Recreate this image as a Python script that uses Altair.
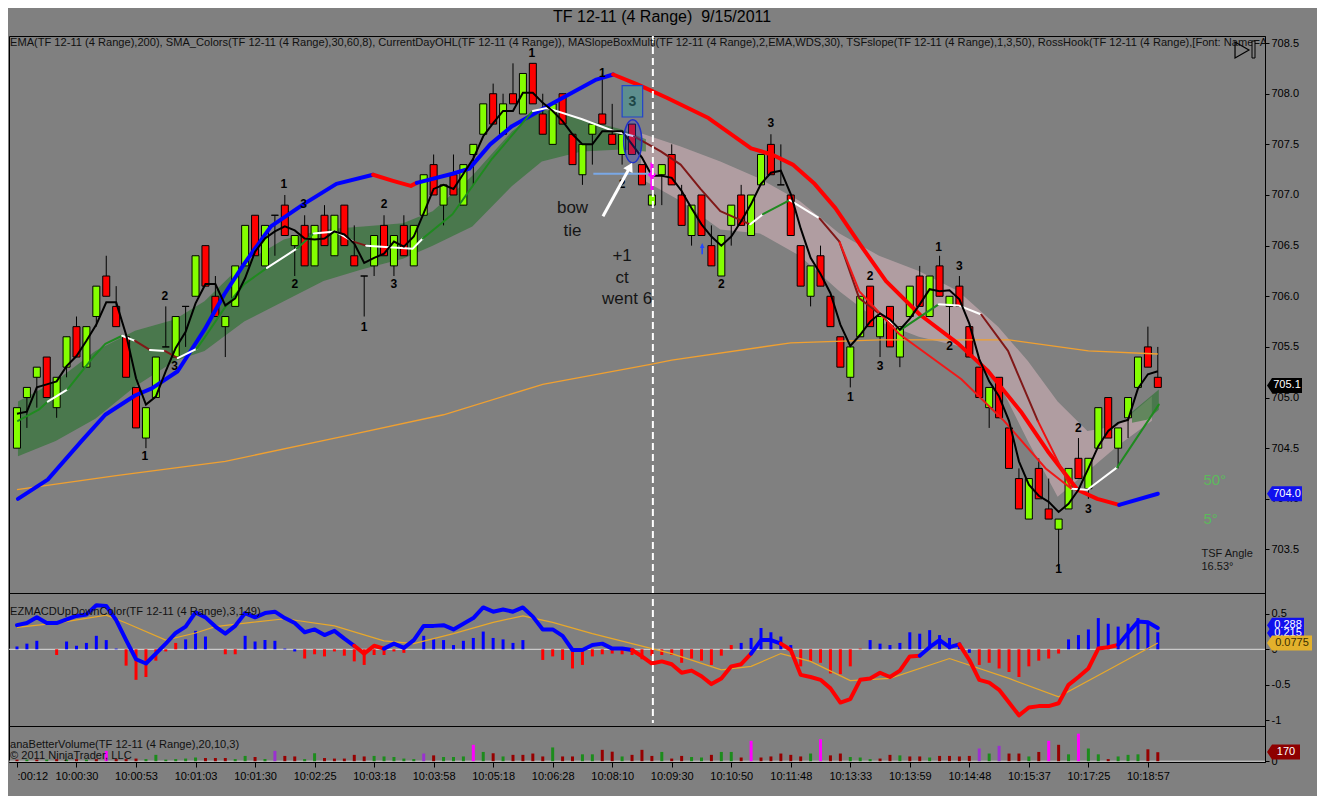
import altair as alt
import pandas as pd

FONT = "Liberation Sans"
BG = "#808080"

title_text = "TF 12-11 (4 Range)\u00a0 9/15/2011"
price_label = ("EMA(TF 12-11 (4 Range),200), SMA_Colors(TF 12-11 (4 Range),30,60,8), "
               "CurrentDayOHL(TF 12-11 (4 Range)), MASlopeBoxMulti(TF 12-11 (4 Range),2,EMA,WDS,30), "
               "TSFslope(TF 12-11 (4 Range),1,3,50), RossHook(TF 12-11 (4 Range),[Font: Name=Ar")
macd_label = "EZMACDUpDownColor(TF 12-11 (4 Range),3,149)"
vol_label1 = "anaBetterVolume(TF 12-11 (4 Range),20,10,3)"
vol_label2 = "\u00a9 2011 NinjaTrader, LLC"

time_labels = [":00:12", "10:00:30", "10:00:53", "10:01:03", "10:01:30", "10:02:25", "10:03:18",
               "10:03:58", "10:05:18", "10:06:28", "10:08:10", "10:09:30", "10:10:50", "10:11:48",
               "10:13:33", "10:13:59", "10:14:48", "10:15:37", "10:17:25", "10:18:57"]
time_ticks = [0, 6, 12, 18, 24, 30, 36, 42, 48, 54, 60, 66, 72, 78, 84, 90, 96, 102, 108, 114]

# ---------------- candles (4-range bars) ----------------
opens = [704.5,705.0,705.2,705.4,704.9,705.3,705.7,705.3,705.8,706.2,
         705.9,705.6,705.1,704.6,705.0,705.5,705.4,705.9,706.0,706.5,
         706.0,705.7,705.9,706.3,706.8,706.3,706.8,706.9,706.5,706.7,
         706.3,706.8,706.4,706.9,706.4,706.2,706.3,706.7,706.3,706.7,
         706.3,706.8,707.3,706.9,707.2,706.9,707.4,707.6,708.0,707.6,
         708.0,707.8,708.3,707.8,707.5,708.0,707.6,707.2,707.6,707.8,
         707.6,707.4,707.7,707.3,706.9,707.2,707.4,707.0,706.6,707.0,
         706.5,706.2,706.7,707.0,706.6,707.1,707.5,707.1,707.0,706.5,
         706.0,706.4,706.0,705.6,705.2,705.6,706.1,705.6,705.9,705.4,
         705.8,706.2,705.8,706.3,705.9,706.1,705.7,705.3,704.9,705.2,
         704.7,704.2,703.8,704.3,703.9,703.7,703.9,704.4,704.1,704.5,
         705.0,704.5,704.8,705.1,705.5,705.2]
closes = [704.9,705.1,705.3,705.0,705.2,705.6,705.4,705.7,706.1,706.0,
          705.7,705.2,704.7,704.9,705.4,705.5,705.8,705.9,706.4,706.1,
          705.8,705.8,706.3,706.7,706.4,706.7,706.8,706.6,706.6,706.3,
          706.7,706.5,706.8,706.5,706.3,706.2,706.6,706.4,706.6,706.4,
          706.7,707.2,707.0,707.1,707.0,707.3,707.5,707.9,707.7,707.9,
          707.9,708.2,707.9,707.6,707.9,707.7,707.3,707.5,707.7,707.7,
          707.5,707.6,707.4,707.1,707.0,707.3,707.1,706.7,706.9,706.6,
          706.3,706.6,706.9,706.7,707.0,707.4,707.2,707.1,706.6,706.1,
          706.3,706.1,705.7,705.3,705.5,706.0,705.7,705.8,705.5,705.7,
          706.1,705.9,706.2,706.0,706.0,705.9,705.4,705.0,705.1,704.8,
          704.3,703.9,704.2,704.0,703.8,703.8,704.3,704.2,704.4,704.9,
          704.6,704.7,705.0,705.4,705.3,705.1]
highs = [704.9,705.1,705.3,705.4,705.2,705.6,705.8,705.7,706.1,706.4,
         706.1,705.6,705.1,704.9,705.4,705.9,705.8,705.9,706.4,706.5,
         706.2,705.8,706.3,706.7,706.8,706.7,706.8,707.0,706.6,706.8,
         706.7,706.9,706.8,706.9,706.7,706.2,706.6,706.8,706.6,706.8,
         706.7,707.2,707.4,707.1,707.4,707.3,707.5,707.9,708.1,708.0,
         708.3,708.2,708.3,708.0,707.9,708.0,707.6,707.5,707.7,708.2,
         707.9,707.6,707.7,707.3,707.0,707.3,707.5,707.1,706.9,707.0,
         706.7,706.6,706.9,707.1,707.0,707.4,707.6,707.5,707.0,706.5,
         706.3,706.5,706.0,705.6,705.5,706.0,706.1,705.8,705.9,705.7,
         706.1,706.3,706.2,706.4,706.0,706.2,705.7,705.3,705.1,705.2,
         704.7,704.3,704.2,704.4,704.2,703.8,704.3,704.6,704.4,704.9,
         705.0,704.7,705.0,705.4,705.7,705.5]
lows = [704.5,704.7,704.9,705.0,704.8,705.2,705.4,705.3,705.7,706.0,
        705.7,705.2,704.7,704.5,705.0,705.5,705.4,705.5,706.0,706.1,
        705.8,705.4,705.9,706.3,706.4,706.3,706.4,706.6,706.2,706.3,
        706.3,706.5,706.4,706.5,706.3,705.8,706.2,706.4,706.2,706.4,
        706.3,706.8,707.0,706.7,707.0,706.9,707.1,707.6,707.7,707.6,
        707.9,707.8,707.9,707.6,707.5,707.7,707.3,707.1,707.3,707.7,
        707.5,707.3,707.4,707.1,706.9,706.9,707.1,706.7,706.5,706.6,
        706.3,706.2,706.5,706.7,706.6,707.1,707.2,707.1,706.6,706.1,
        705.9,706.1,705.7,705.3,705.1,705.6,705.7,705.4,705.5,705.3,
        705.8,705.9,705.8,706.0,705.6,705.9,705.4,705.0,704.7,704.8,
        704.3,703.9,703.8,704.0,703.8,703.3,703.9,704.2,704.0,704.5,
        704.6,704.3,704.6,705.1,705.3,705.1]
bar_index = list(range(len(opens)))

# fast black line (one value per bar)
black_line = [704.84,704.86,705.10,705.13,705.16,705.31,705.41,705.56,705.72,705.94,
              705.94,705.62,705.19,704.93,705.01,705.26,705.49,705.65,705.93,706.12,
              706.12,705.91,705.98,706.18,706.44,706.57,706.64,706.69,706.65,706.57,
              706.56,706.57,706.64,706.61,706.52,706.33,706.38,706.42,706.54,706.49,
              706.59,706.82,707.06,707.10,707.06,707.21,707.36,707.58,707.71,707.83,
              707.83,708.01,708.01,707.91,707.83,707.73,707.60,707.50,707.50,707.63,
              707.63,707.63,707.50,707.37,707.19,707.19,707.17,707.04,706.87,706.71,
              706.59,706.50,706.59,706.74,706.91,707.11,707.22,707.24,707.01,706.67,
              706.38,706.22,706.03,705.72,705.51,705.62,705.75,705.83,705.77,705.67,
              705.78,705.92,706.07,706.05,706.06,705.97,705.73,705.38,705.16,705.01,
              704.77,704.37,704.14,704.03,703.97,703.87,703.95,704.09,704.30,704.52,
              704.67,704.75,704.78,705.09,705.23,705.26]

# EMA(200)
ema_i = [0, 10, 21, 33, 43, 53, 64, 66, 78, 87, 100, 108, 115]
ema_p = [704.09,704.23,704.37,704.62,704.83,705.13,705.33,705.37,705.54,705.57,705.57,705.46,705.43]

# thick SMA_Colors line (b = rising/blue, r = falling/red)
thick_i = [0.1,3.1,6.5,8.9,11.9,13.6,16.2,18.9,20.9,22.9,25.6,28.9,32.2,35.9,37.9,39.7,40.3,43.9,45.6,47.7,
           49.9,54.1,58.4,60.1,62.6,65.5,69.7,74.0,76.1,78.2,80.4,82.5,85.0,87.6,91.0,94.9,97.9,101.2,103.9,106.9,
           108.9,111.1,115.0]
thick_p = [704.00,704.19,704.57,704.83,705.02,705.09,705.26,705.67,706.02,706.32,706.69,706.91,707.11,707.20,707.14,
           707.09,707.12,707.21,707.26,707.50,707.68,707.91,708.14,708.19,708.09,707.96,707.76,707.46,707.40,707.30,
           707.11,706.87,706.51,706.15,705.82,705.53,705.26,704.86,704.47,704.09,704.00,703.94,704.05]
thick_c = "bbbbbbbbbbbbbbrrrbbbbbbbrrrrrrrrrrrrrrrrrrb"

# slope-coloured middle average (g green, w white/flat, m maroon, r red)
mid_i = [0.1,2.2,3.1,5.1,7.6,8.9,10.6,11.9,13.4,14.9,16.2,18.1,18.9,20.9,22.9,25.2,28.2,29.9,32.1,33.9,35.2,
         39.9,40.9,43.9,47.9,52.0,53.4,56.9,60.2,62.2,64.9,66.9,68.9,70.9,73.9,75.2,77.9,80.9,82.9,84.9,86.9,
         89.1,92.9,94.9,97.2,99.9,102.9,106.3,107.9,110.9,115.1]
mid_p = [704.77,704.88,704.96,705.08,705.39,705.53,705.61,705.56,705.47,705.46,705.39,705.48,705.59,705.88,706.12,
         706.28,706.47,706.62,706.64,706.54,706.50,706.47,706.57,706.81,707.36,707.83,707.86,707.75,707.63,707.58,
         707.43,707.30,707.06,706.84,706.71,706.81,706.95,706.77,706.54,705.98,705.83,705.67,705.92,705.91,705.82,
         705.46,704.77,704.10,704.09,704.31,704.93]
mid_c = "gggwgggwmwmwggggwgwwmwwgggwwwwmmmmmwgwmmmwgwwmmrwwg"

# thin red average on the right
tred_i = [82.9, 84.9, 88.9, 95.2, 99.5, 103.7, 106.3]
tred_p = [706.54, 706.05, 705.63, 705.18, 704.77, 704.30, 704.10]

# green envelope (left) and small patch (right)
gband_i = [0.1,3.9,7.9,11.9,15.9,18.9,22.9,26.9,30.9,34.9,38.9,41.9,45.9,49.9,52.9,56.9,60.9,63.4]
gband_top = [704.96,705.16,705.46,705.66,705.77,705.95,706.33,706.56,706.66,706.69,706.72,706.84,707.19,707.63,
             707.85,707.75,707.65,707.55]
gband_bot = [704.42,704.57,704.79,705.11,705.36,705.46,705.75,705.95,706.15,706.27,706.37,706.50,706.69,707.09,
             707.33,707.43,707.45,707.43]
gpatch_i = [112.4, 113.9, 115.1]
gpatch_top = [704.86, 704.98, 705.08]
gpatch_bot = [704.75, 704.78, 704.88]

# pink slope box
pband_i = [62.9,66.9,70.9,74.9,78.9,82.9,86.9,90.9,94.9,98.9,101.9,104.9,107.9,110.9,114.4]
pband_top = [707.61,707.48,707.33,707.16,706.94,706.62,706.40,706.25,706.05,705.70,705.36,704.96,704.67,704.72,705.01]
pband_bot = [707.16,706.94,706.66,706.62,706.40,706.05,705.75,705.60,705.51,705.16,704.57,704.02,704.27,704.52,704.77]

# Ross hook numbers
rh_t = ["1","2","3","1","3","2","2","1","3","1","1","2","3","2","2","1","3","1","3","2","2","3","1"]
rh_i = [12.9,14.9,15.9,26.9,28.9,28.0,37.0,35.0,38.0,51.9,59.0,61.0,76.0,71.0,86.0,84.0,87.0,92.9,95.0,94.0,
        107.0,108.0,105.0]
rh_p = [704.42,706.00,705.31,707.11,706.91,706.12,706.91,705.70,706.12,708.40,708.20,707.11,707.71,706.12,706.20,
        705.01,705.31,706.49,706.30,705.51,704.70,703.90,703.31]

# hand annotations
note_t = ["bow", "tie", "+1", "ct", "went 6"]
note_i = [56.0, 56.0, 61.0, 61.0, 61.5]
note_p = [706.87, 706.64, 706.40, 706.18, 705.97]

# ---------------- MACD ----------------
macd = [0.34,0.37,0.45,0.37,0.37,0.42,0.47,0.49,0.62,0.61,
        0.41,0.13,-0.14,-0.20,-0.06,0.08,0.23,0.32,0.52,0.45,
        0.32,0.22,0.33,0.51,0.45,0.51,0.53,0.44,0.37,0.24,
        0.28,0.20,0.26,0.15,0.05,-0.06,0.05,0.01,0.08,0.02,
        0.13,0.33,0.33,0.34,0.28,0.36,0.44,0.59,0.53,0.56,
        0.53,0.59,0.46,0.28,0.28,0.19,-0.01,-0.01,0.06,0.08,
        0.01,0.01,-0.01,-0.10,-0.20,-0.17,-0.21,-0.33,-0.30,-0.38,
        -0.49,-0.41,-0.24,-0.21,-0.06,0.13,0.13,0.08,-0.01,-0.36,
        -0.39,-0.43,-0.55,-0.75,-0.70,-0.43,-0.41,-0.33,-0.39,-0.30,
        -0.10,-0.09,0.03,0.13,0.03,0.07,-0.15,-0.43,-0.47,-0.57,
        -0.75,-0.93,-0.82,-0.80,-0.80,-0.76,-0.50,-0.39,-0.27,0.01,
        0.03,0.06,0.23,0.39,0.38,0.30]
macd_c = ("bbbbbbbbbb" "bbbbbbbbbb" "bbbbbbbbbb" "bbbbbrrrbb" "bbbbbbbbbb" "bbbbbbbbbb"
          "bbbrrrrrrr" "rrrrrbbbrr" "rrrrrrrrrr" "rrbbbbrrrr" "rrrrrrrrrr" "rrbbbb")
hist = [0.04,0.08,0.12,0.0,-0.08,0.11,0.05,0.09,0.19,0.13,
        0.01,-0.23,-0.43,-0.39,-0.16,-0.03,0.09,0.14,0.26,0.18,
        0.0,-0.07,-0.07,0.19,0.11,0.13,0.12,0.01,-0.03,-0.13,
        -0.07,-0.10,-0.03,-0.09,-0.17,-0.22,-0.08,-0.08,-0.03,-0.05,
        0.0,0.19,0.14,0.13,0.06,0.12,0.16,0.25,0.16,0.14,
        0.09,0.13,0.0,-0.15,-0.10,-0.15,-0.27,-0.22,-0.10,-0.07,
        -0.06,-0.07,-0.08,-0.14,-0.09,-0.08,-0.08,-0.19,-0.13,-0.16,
        -0.22,-0.09,0.06,0.09,0.16,0.30,0.24,0.18,0.06,-0.24,
        -0.17,-0.19,-0.34,-0.35,-0.24,0.01,0.13,0.08,0.06,0.09,
        0.24,0.22,0.27,0.20,0.16,0.08,-0.05,-0.22,-0.19,-0.27,
        -0.32,-0.39,-0.24,-0.16,-0.13,-0.06,0.14,0.20,0.28,0.44,
        0.36,0.32,0.36,0.44,0.38,0.24]
hist_c = ("bbbbrbbbbb" "brrrrrrbbb" "brrbbbbbbr" "rrrrrrrrrr" "bbbbbbbbbb" "bbbrrrrrrr"
          "rrrrrrrrrr" "rrrbbbbbbr" "rrrrrrbbbb" "bbbbbbbrrr" "rrrrrrbbbb" "bbbbbb")
sig_i = [0,4,9,11,15,18,20,23,27,32,37,40,44,48,51,54,58,62,66,71,74,77,80,84,88,94,100,105,110,115]
sig_v = [0.31,0.37,0.48,0.37,0.13,0.23,0.32,0.37,0.43,0.33,0.12,0.08,0.22,0.38,0.47,0.38,0.22,0.08,
         -0.06,-0.29,-0.24,-0.06,-0.17,-0.44,-0.41,-0.13,-0.41,-0.67,-0.29,0.09]

# ---------------- volume ----------------
vol = [30,30,30,30,40,30,40,30,40,195,
       40,40,50,40,120,30,40,50,70,60,
       60,60,40,100,80,40,195,100,90,40,
       150,60,50,50,120,90,100,90,80,50,
       40,145,110,80,80,90,310,175,150,90,
       120,120,145,90,260,90,90,130,130,215,
       180,90,120,215,100,175,50,100,80,70,
       120,175,175,70,385,70,90,145,120,90,
       145,415,110,145,80,70,40,50,120,110,
       90,90,70,100,100,90,100,240,145,290,
       145,145,90,175,385,310,130,520,240,130,
       40,90,120,130,225,170]
vol_c = ("rgrgrgrgrm" "rrrggggggr" "rrggrgprrg" "grrrrrgggg" "gprgggmgrg" "rrrrgrrggr"
         "rgrrrgrrgg" "rggrmrrrrr" "gmrrgggrrg" "rrgrrrrpgp" "rrgrmrgmgg" "rgggrr")

COL = {"b": "#0000ff", "r": "#ff0000", "g": "#1f8f1f", "w": "#ffffff", "m": "#8b1a1a"}
VOLCOL = {"r": "#960000", "g": "#1c8c1c", "m": "#ff00ff", "p": "#9a30d0"}
MIDCOL = {"g": "#1f8a1f", "w": "#ffffff", "m": "#801818", "r": "#f01010"}

# ---------------- geometry ----------------
W = 1256
HP, HM, HV = 557, 133, 36
X_DOM = [-0.3, 125.3]
P_DOM = [703.07, 708.57]
M_DOM = [-1.08, 0.793]
V_DOM = [-15, 665]

xscale = alt.Scale(domain=X_DOM, nice=False, zero=False)


def XP(f):
    return alt.X(f + ":Q", scale=xscale, axis=None)


axis_common = dict(orient="right", title=None, grid=False, tickSize=4, labelPadding=2, labelFontSize=11,
                   labelFont=FONT, labelColor="black", tickColor="black", domainColor="black")
p_axis = alt.Axis(values=[703.5, 704.0, 704.5, 705.0, 705.5, 706.0, 706.5, 707.0, 707.5, 708.0, 708.5],
                  format=".1f", **axis_common)
m_axis = alt.Axis(values=[0.5, 0, -0.5, -1], labelExpr="toString(datum.value)", **axis_common)
v_axis = alt.Axis(values=[0], labelExpr="'0'", **axis_common)


def YP(f):
    return alt.Y(f + ":Q", scale=alt.Scale(domain=P_DOM, nice=False, zero=False), axis=p_axis)


def YM(f):
    return alt.Y(f + ":Q", scale=alt.Scale(domain=M_DOM, nice=False, zero=False), axis=m_axis)


def YV(f):
    return alt.Y(f + ":Q", scale=alt.Scale(domain=V_DOM, nice=False, zero=False), axis=v_axis)


labels_js = "[" + ",".join(repr(s) for s in time_labels) + "]"
x_axis = alt.Axis(values=time_ticks, labelExpr=labels_js + "[round(datum.value/6)]", title=None, grid=False,
                  tickSize=5, labelPadding=3, labelFontSize=11, labelFont=FONT, labelColor="black",
                  tickColor="black", domainColor="black", labelOverlap=False,
                  labelAlign={"condition": {"test": "datum.value < 1", "value": "left"}, "value": "center"})


def XV(f):
    return alt.X(f + ":Q", scale=xscale, axis=x_axis)


def runs(xs, ys, cols, cmap):
    rows = []
    run = -1
    prev = None
    for k in range(len(xs) - 1):
        c = cols[k + 1]
        if c != prev:
            run += 1
            rows.append(dict(run=run, i=xs[k], v=ys[k], col=cmap[c]))
            prev = c
        rows.append(dict(run=run, i=xs[k + 1], v=ys[k + 1], col=cmap[c]))
    return pd.DataFrame(rows)


def box_path(w, h, tip=5.0):
    u = w / 2.0
    hy = h / w
    t = -1 - tip / u
    return f"M{t:.3f},0L-1,{-hy:.3f}L1,{-hy:.3f}L1,{hy:.3f}L-1,{hy:.3f}Z"


# ---------------- price panel ----------------
cdf = pd.DataFrame({"i": bar_index, "o": opens, "c": closes, "h": highs, "l": lows})

pink = alt.Chart(pd.DataFrame({"i": pband_i, "top": pband_top, "bot": pband_bot})).mark_area(
    color="#f2c6d0", opacity=0.42).encode(x=XP("i"), y=YP("top"), y2="bot")
gdf = pd.concat([
    pd.DataFrame({"grp": "a", "i": gband_i, "top": gband_top, "bot": gband_bot}),
    pd.DataFrame({"grp": "b", "i": gpatch_i, "top": gpatch_top, "bot": gpatch_bot}),
])
green = alt.Chart(gdf).mark_area(color="#13701a", opacity=0.5).encode(
    x=XP("i"), y=YP("top"), y2="bot", detail="grp:N")

wicks = alt.Chart(cdf).mark_rule(color="black", strokeWidth=1).encode(x=XP("i"), y=YP("l"), y2="h")
bodies = alt.Chart(cdf).transform_calculate(
    fillc="datum.c > datum.o ? '#84ff00' : (datum.c < datum.o ? '#ff0000' : '#000000')"
).mark_bar(size=7, stroke="black", strokeWidth=1).encode(
    x=XP("i"), y=YP("o"), y2="c", fill=alt.Fill("fillc:N", scale=None))

ema = alt.Chart(pd.DataFrame({"i": ema_i, "p": ema_p})).mark_line(color="#f0a030", strokeWidth=1.3).encode(
    x=XP("i"), y=YP("p"))
thick = alt.Chart(runs(thick_i, thick_p, thick_c, COL)).mark_line(
    strokeWidth=4, strokeCap="round", strokeJoin="round").encode(
    x=XP("i"), y=YP("v"), color=alt.Color("col:N", scale=None), detail="run:N")
mid = alt.Chart(runs(mid_i, mid_p, mid_c, MIDCOL)).mark_line(
    strokeWidth=2, strokeCap="round", strokeJoin="round").encode(
    x=XP("i"), y=YP("v"), color=alt.Color("col:N", scale=None), detail="run:N")
tred = alt.Chart(pd.DataFrame({"i": tred_i, "p": tred_p})).mark_line(color="#f01818", strokeWidth=2).encode(
    x=XP("i"), y=YP("p"))
blk = alt.Chart(pd.DataFrame({"i": bar_index, "p": black_line})).mark_line(color="black", strokeWidth=2).encode(
    x=XP("i"), y=YP("p"))

rh = alt.Chart(pd.DataFrame({"i": rh_i, "p": rh_p, "t": rh_t})).mark_text(
    font=FONT, fontSize=12, fontWeight="bold", color="black", baseline="middle").encode(
    x=XP("i"), y=YP("p"), text="t:N")
notes = alt.Chart(pd.DataFrame({"i": note_i, "p": note_p, "t": note_t})).mark_text(
    font=FONT, fontSize=17, color="#151515", baseline="middle").encode(x=XP("i"), y=YP("p"), text="t:N")

# "3" box with ellipse around bar 62
box3 = alt.Chart(pd.DataFrame({"i": [61.0], "i2": [63.07], "p": [708.08], "p2": [707.77]})).mark_rect(
    fill="#5d8e8e", stroke="#2244cc", strokeWidth=1.2).encode(x=XP("i"), x2="i2", y=YP("p"), y2="p2")
box3t = alt.Chart(pd.DataFrame({"i": [62.03], "p": [707.92]})).mark_text(
    text="3", font=FONT, fontSize=14, fontWeight="bold", color="#1d4646", baseline="middle").encode(
    x=XP("i"), y=YP("p"))
ellipse = alt.Chart(pd.DataFrame({"i": [62.07], "p": [707.53]})).mark_point(
    shape="M-0.42,0A0.42,1 0 1,0 0.42,0A0.42,1 0 1,0 -0.42,0Z", size=1849, filled=True,
    fill="#3a46d8", fillOpacity=0.3, stroke="#2030c8", strokeWidth=1.5, opacity=1).encode(x=XP("i"), y=YP("p"))

# light blue line, magenta mark, white arrow, blue arrow
hline = alt.Chart(pd.DataFrame({"i": [58.1], "i2": [64.2], "p": [707.21]})).mark_rule(
    color="#7aa8e6", strokeWidth=2).encode(x=XP("i"), x2="i2", y=YP("p"))
mag = alt.Chart(pd.DataFrame({"i": [64.0], "p": [707.05], "p2": [707.32]})).mark_rule(
    color="#ff00ff", strokeWidth=3).encode(x=XP("i"), y=YP("p"), y2="p2")
magpt = alt.Chart(pd.DataFrame({"i": [64.0], "p": [707.2]})).mark_point(
    shape="diamond", size=70, filled=True, color="#ff00ff", opacity=1).encode(x=XP("i"), y=YP("p"))
arrow = alt.Chart(pd.DataFrame({"i": [59.07], "i2": [61.7], "p": [706.79], "p2": [707.26]})).mark_rule(
    color="white", strokeWidth=3).encode(x=XP("i"), x2="i2", y=YP("p"), y2="p2")
arrowhead = alt.Chart(pd.DataFrame({"i": [61.8], "p": [707.28]})).mark_point(
    shape="triangle-up", angle=28, size=110, filled=True, color="white", opacity=1).encode(
    x=XP("i"), y=YP("p"))
bluearrow = alt.Chart(pd.DataFrame({"i": [69.07], "p": [706.47]})).mark_point(
    shape="arrow", size=130, filled=True, color="#2448ff", opacity=1).encode(x=XP("i"), y=YP("p"))

dash_p = alt.Chart(pd.DataFrame({"i": [64.1]})).mark_rule(
    color="white", strokeWidth=2, strokeDash=[7, 4]).encode(x=XP("i"), y=alt.value(0), y2=alt.value(HP))

plabel = alt.Chart(pd.DataFrame({"a": [0]})).mark_text(
    text=price_label, font=FONT, fontSize=11.1, color="#111111", align="left", baseline="middle",
    clip=True).encode(x=alt.value(1), y=alt.value(7))

# right-side info texts
side = pd.DataFrame({"i": [119.6, 119.6], "p": [704.19, 703.80], "t": ["50\u00b0", "5\u00b0"]})
side_t = alt.Chart(side).mark_text(font=FONT, fontSize=15, color="#5cba5c", align="left",
                                   baseline="middle").encode(x=XP("i"), y=YP("p"), text="t:N")
tsf = pd.DataFrame({"i": [119.4, 119.4], "p": [703.46, 703.33], "t": ["TSF Angle", "16.53\u00b0"]})
tsf_t = alt.Chart(tsf).mark_text(font=FONT, fontSize=11, color="#151515", align="left",
                                 baseline="middle").encode(x=XP("i"), y=YP("p"), text="t:N")

# NinjaTrader "play" button
btn_tri = alt.Chart(pd.DataFrame({"a": [0]})).mark_point(
    shape="triangle-right", size=260, filled=False, color="black", strokeWidth=1.2, opacity=1).encode(
    x=alt.value(1233), y=alt.value(14))
btn_bar = alt.Chart(pd.DataFrame({"a": [0]})).mark_rect(
    fill=BG, stroke="black", strokeWidth=1).encode(
    x=alt.value(1243), x2=alt.value(1246), y=alt.value(5), y2=alt.value(22))

# price markers at the axis
pm = pd.DataFrame({"p": [705.12, 704.05], "t": ["705.1", "704.0"], "f": ["#000000", "#1010ee"]})
pm_box = alt.Chart(pm).mark_point(shape=box_path(30, 15), size=900, filled=True, opacity=1,
                                  strokeWidth=0).encode(
    x=alt.value(1278), y=YP("p"), fill=alt.Fill("f:N", scale=None))
pm_txt = alt.Chart(pm).mark_text(font=FONT, fontSize=11, color="white", baseline="middle").encode(
    x=alt.value(1278), y=YP("p"), text="t:N")

price = alt.layer(pink, green, wicks, bodies, ema, thick, mid, tred, blk, rh, notes, box3, box3t, ellipse,
                  hline, mag, magpt, arrow, arrowhead, bluearrow, dash_p, plabel, side_t, tsf_t,
                  btn_tri, btn_bar, pm_box, pm_txt).properties(width=W, height=HP)

# ---------------- MACD panel ----------------
zero_m = alt.Chart(pd.DataFrame({"v": [0]})).mark_rule(color="#dcdcdc", strokeWidth=1).encode(y=YM("v"))
hdf = pd.DataFrame({"i": bar_index, "v": hist, "col": [COL[c] for c in hist_c]})
hbars = alt.Chart(hdf).mark_bar(size=3).encode(
    x=XP("i"), y=YM("v"), y2=alt.datum(0), color=alt.Color("col:N", scale=None))
sig = alt.Chart(pd.DataFrame({"i": sig_i, "v": sig_v})).mark_line(color="#e8a82a", strokeWidth=1.2).encode(
    x=XP("i"), y=YM("v"))
mline = alt.Chart(runs(bar_index, macd, macd_c, COL)).mark_line(
    strokeWidth=4, strokeCap="round", strokeJoin="round").encode(
    x=XP("i"), y=YM("v"), color=alt.Color("col:N", scale=None), detail="run:N")
dash_m = alt.Chart(pd.DataFrame({"i": [64.1]})).mark_rule(
    color="white", strokeWidth=2, strokeDash=[7, 4]).encode(x=XP("i"), y=alt.value(6), y2=alt.value(130))
mlabel = alt.Chart(pd.DataFrame({"a": [0]})).mark_text(
    text=macd_label, font=FONT, fontSize=11.1, color="#111111", align="left", baseline="middle").encode(
    x=alt.value(1), y=alt.value(19))
mm = pd.DataFrame({"v": [0.34, 0.23], "t": ["0.288", "0.215"], "f": ["#1010ee", "#1010ee"]})
mm_box = alt.Chart(mm).mark_point(shape=box_path(32, 15), size=1024, filled=True, opacity=1,
                                  strokeWidth=0).encode(
    x=alt.value(1279), y=YM("v"), fill=alt.Fill("f:N", scale=None))
mm_txt = alt.Chart(mm).mark_text(font=FONT, fontSize=11, color="white", baseline="middle").encode(
    x=alt.value(1279), y=YM("v"), text="t:N")
ym = pd.DataFrame({"v": [0.089], "t": ["0.0775"]})
ym_box = alt.Chart(ym).mark_point(shape=box_path(40, 15), size=1600, filled=True, opacity=1,
                                  strokeWidth=0, color="#e3b12c").encode(x=alt.value(1283), y=YM("v"))
ym_txt = alt.Chart(ym).mark_text(font=FONT, fontSize=11, color="#3a3000", baseline="middle").encode(
    x=alt.value(1283), y=YM("v"), text="t:N")

macd_panel = alt.layer(zero_m, hbars, sig, mline, dash_m, mlabel, mm_box, mm_txt, ym_box, ym_txt).properties(
    width=W, height=HM)

# ---------------- volume panel ----------------
zero_v = alt.Chart(pd.DataFrame({"v": [0]})).mark_rule(color="#d0d0d0", strokeWidth=1).encode(
    x=alt.value(0), x2=alt.value(W), y=YV("v"))
vdf = pd.DataFrame({"i": bar_index, "v": vol, "col": [VOLCOL[c] for c in vol_c]})
vbars = alt.Chart(vdf).mark_bar(size=3).encode(
    x=XV("i"), y=YV("v"), y2=alt.datum(0), color=alt.Color("col:N", scale=None))
vlab1 = alt.Chart(pd.DataFrame({"a": [0]})).mark_text(
    text=vol_label1, font=FONT, fontSize=11.1, color="#111111", align="left", baseline="middle").encode(
    x=alt.value(1), y=alt.value(19))
vlab2 = alt.Chart(pd.DataFrame({"a": [0]})).mark_text(
    text=vol_label2, font=FONT, fontSize=11.1, color="#111111", align="left", baseline="middle").encode(
    x=alt.value(1), y=alt.value(30))
vm = pd.DataFrame({"v": [176], "t": ["170"]})
vm_box = alt.Chart(vm).mark_point(shape=box_path(28, 15), size=784, filled=True, opacity=1,
                                  strokeWidth=0, color="#8e0000").encode(x=alt.value(1277), y=YV("v"))
vm_txt = alt.Chart(vm).mark_text(font=FONT, fontSize=11, color="white", baseline="middle").encode(
    x=alt.value(1277), y=YV("v"), text="t:N")

vol_panel = alt.layer(zero_v, vbars, vlab1, vlab2, vm_box, vm_txt).properties(width=W, height=HV)

chart = alt.vconcat(
    price, macd_panel, vol_panel, spacing=0, bounds="flush",
    title=alt.TitleParams(text=title_text, anchor="start", dx=545, fontSize=16, font=FONT,
                          fontWeight="normal", color="black", offset=10),
).properties(
    padding={"left": 0, "top": 0, "right": 4, "bottom": 14}
).configure(
    background=BG, font=FONT
).configure_view(
    stroke="black", strokeWidth=1
).configure_axis(
    grid=False
)

chart.save("out.html", embed_options={"renderer": "svg", "actions": False})
